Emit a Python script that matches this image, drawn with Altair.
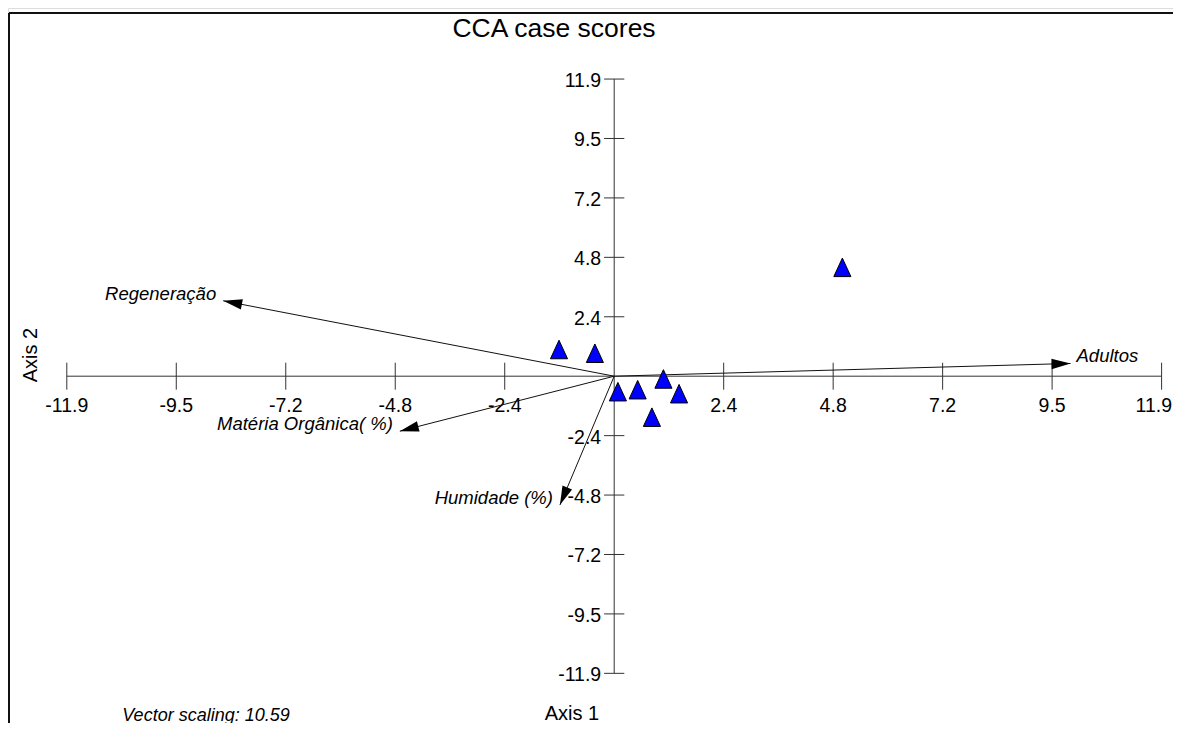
import math
import altair as alt
import pandas as pd

# ---------------- data ----------------
site_x = [-1.20, -0.42, 0.08, 0.51, 1.07, 1.41, 0.82, 4.96]
site_y = [1.06, 0.91, -0.63, -0.55, -0.12, -0.71, -1.65, 4.35]

vec_names = ["Adultos", "Regeneração", "Matéria Orgânica( %)", "Humidade (%)"]
vec_x = [9.92, -8.50, -4.66, -1.18]
vec_y = [0.51, 3.02, -2.20, -5.16]

tick_values = [-11.9, -9.52, -7.14, -4.76, -2.38, 2.38, 4.76, 7.14, 9.52, 11.9]
tick_labels = ["-11.9", "-9.5", "-7.2", "-4.8", "-2.4", "2.4", "4.8", "7.2", "9.5", "11.9"]
axis_limit = 11.9

title_text = "CCA case scores"
x_title = "Axis 1"
y_title = "Axis 2"
note_text = "Vector scaling: 10.59"

# ---------------- layout ----------------
W, H = 1165, 715
PXX = 46.0    # pixels per x unit
PXY = 24.97   # pixels per y unit
XMIN = (8 - 614.2) / PXX
XMAX = XMIN + W / PXX
YMAX = (376.2 - 8) / PXY
YMIN = YMAX - H / PXY
FONT = "Liberation Sans"

xs = alt.Scale(domain=[XMIN, XMAX], nice=False, zero=False)
ys = alt.Scale(domain=[YMIN, YMAX], nice=False, zero=False)

kx = W / (XMAX - XMIN)
ky = H / (YMAX - YMIN)

sites = pd.DataFrame({"x": site_x, "y": site_y})
vecs = pd.DataFrame({"name": vec_names, "vx": vec_x, "vy": vec_y})
vecs["x0"] = 0.0
vecs["y0"] = 0.0
vecs["ang"] = [
    (math.degrees(math.atan2(-vy * ky, vx * kx)) + 360) % 360
    for vx, vy in zip(vec_x, vec_y)
]
ticks = pd.DataFrame({"v": tick_values, "lab": tick_labels})
ticks["zero"] = 0.0
ticks["lo_y"] = -0.54
ticks["hi_y"] = 0.54
ticks["lo_x"] = -0.22
ticks["hi_x"] = 0.22
axes = pd.DataFrame({"a": [-axis_limit], "b": [axis_limit], "z": [0.0]})

AX = "#333333"

def X(f):
    return alt.X(f, scale=xs, axis=None)

def Y(f):
    return alt.Y(f, scale=ys, axis=None)

# axis lines
x_axis = alt.Chart(axes).mark_rule(color=AX, strokeWidth=1).encode(
    x=X("a:Q"), x2="b:Q", y=Y("z:Q"))
y_axis = alt.Chart(axes).mark_rule(color=AX, strokeWidth=1).encode(
    y=Y("a:Q"), y2="b:Q", x=X("z:Q"))

# tick marks
x_ticks = alt.Chart(ticks).mark_rule(color=AX, strokeWidth=1).encode(
    x=X("v:Q"), y=Y("lo_y:Q"), y2="hi_y:Q")
y_ticks = alt.Chart(ticks).mark_rule(color=AX, strokeWidth=1).encode(
    y=Y("v:Q"), x=X("lo_x:Q"), x2="hi_x:Q")

# tick labels
x_labels = alt.Chart(ticks).transform_filter(f"datum.v < {axis_limit}").mark_text(
    font=FONT, fontSize=19.5, color="#000", align="center",
    baseline="alphabetic", dy=35.5).encode(
    x=X("v:Q"), y=Y("zero:Q"), text="lab:N")
x_label_last = alt.Chart(ticks).transform_filter(f"datum.v >= {axis_limit}").mark_text(
    font=FONT, fontSize=19.5, color="#000", align="right",
    baseline="alphabetic", dx=10.5, dy=35.5).encode(
    x=X("v:Q"), y=Y("zero:Q"), text="lab:N")
y_labels = alt.Chart(ticks).mark_text(
    font=FONT, fontSize=19.5, color="#000", align="right",
    baseline="alphabetic", dx=-13, dy=8).encode(
    x=X("zero:Q"), y=Y("v:Q"), text="lab:N")

# vectors
vec_lines = alt.Chart(vecs).mark_rule(color="#111", strokeWidth=1).encode(
    x=X("x0:Q"), y=Y("y0:Q"), x2="vx:Q", y2="vy:Q")
ARROW = "M0,0L-2,-0.55L-2,0.55Z"
vec_heads = alt.Chart(vecs).mark_point(
    shape=ARROW, filled=True, size=361, color="#000", opacity=1).encode(
    x=X("vx:Q"), y=Y("vy:Q"), angle=alt.Angle("ang:Q", scale=None))
vec_lab_left = alt.Chart(vecs).transform_filter("datum.vx < 0").mark_text(
    font=FONT, fontSize=18.5, fontStyle="italic", color="#000",
    align="right", baseline="alphabetic", dx=-7, dy=-1).encode(
    x=X("vx:Q"), y=Y("vy:Q"), text="name:N")
vec_lab_right = alt.Chart(vecs).transform_filter("datum.vx >= 0").mark_text(
    font=FONT, fontSize=18.5, fontStyle="italic", color="#000",
    align="left", baseline="alphabetic", dx=6, dy=-1).encode(
    x=X("vx:Q"), y=Y("vy:Q"), text="name:N")

# site triangles
TRI = "M0,-1L-0.9,0.95L0.9,0.95Z"
points = alt.Chart(sites).mark_point(
    shape=TRI, filled=True, size=361, fill="#0000ff", stroke="#000",
    strokeWidth=1, opacity=1, fillOpacity=1).encode(x=X("x:Q"), y=Y("y:Q"))

# texts
def label(text, x, y, size, **kw):
    return alt.Chart(pd.DataFrame({"t": [text]})).mark_text(
        font=FONT, fontSize=size, color="#000", **kw).encode(
        x=alt.value(x), y=alt.value(y), text="t:N")

title = label(title_text, 546, 29, 26.5, align="center", baseline="alphabetic")
xt = label(x_title, 564, 712, 20, align="center", baseline="alphabetic")
yt = label(y_title, 23, 347, 20, align="center", baseline="middle", angle=270)
note = label(note_text, 198, 713, 18, align="center", baseline="alphabetic",
             fontStyle="italic")

# frame (left and top)
frame_df = pd.DataFrame({"k": [0]})
frame_left = alt.Chart(frame_df).mark_rule(color="#111", strokeWidth=2).encode(
    x=alt.value(1), y=alt.value(5), y2=alt.value(H))
frame_top = alt.Chart(frame_df).mark_rule(color="#111", strokeWidth=2).encode(
    x=alt.value(1), x2=alt.value(W), y=alt.value(5))

chart = alt.layer(
    frame_left, frame_top,
    x_axis, y_axis, x_ticks, y_ticks, x_labels, x_label_last, y_labels,
    vec_lines, vec_heads, vec_lab_left, vec_lab_right,
    points, title, xt, yt, note,
).properties(
    width=W, height=H, padding=0, autosize=alt.AutoSizeParams(type="none")
).configure_view(stroke=None).configure(background="white")

chart.save("out.html", embed_options={"renderer": "svg", "actions": False})
